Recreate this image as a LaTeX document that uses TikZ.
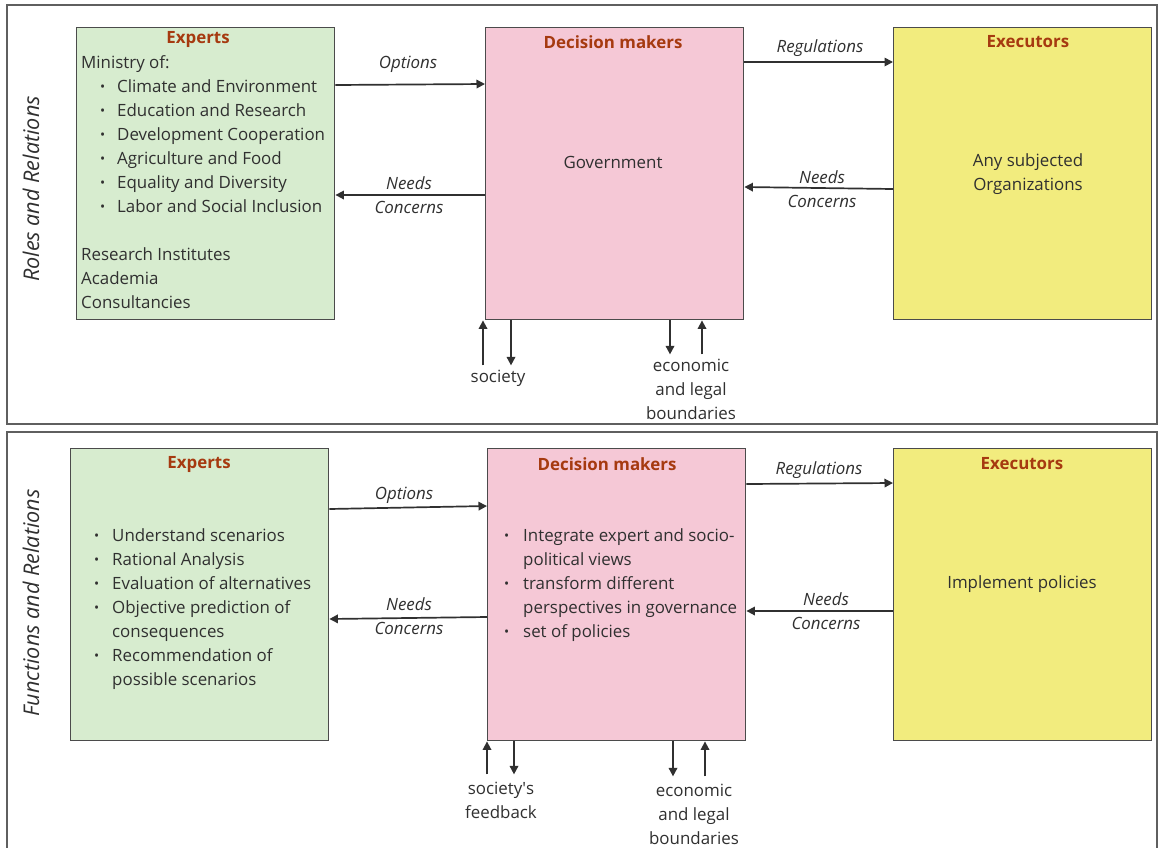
\documentclass[tikz,border=0pt]{standalone}
\usepackage{fontspec}
\setmainfont{Open Sans}
\usetikzlibrary{arrows.meta,calc}

\definecolor{expertfill}{RGB}{215,236,207}
\definecolor{deciderfill}{RGB}{245,200,214}
\definecolor{executorfill}{RGB}{242,236,126}
\definecolor{boxline}{RGB}{75,75,75}
\definecolor{titlered}{RGB}{166,58,16}
\definecolor{ink}{RGB}{48,48,48}
\definecolor{frameline}{RGB}{95,95,95}

% small list bullet followed by a fixed indent
\newcommand\bul[1]{\makebox[#1][l]{\raisebox{1pt}{\scalebox{0.8}{•}}}}

\tikzset{
  panel/.style={draw=frameline, line width=1.3pt},
  box/.style={draw=boxline, line width=1.4pt, rectangle, anchor=north west,
    inner sep=0pt, minimum width=258pt, minimum height=292pt},
  boxtitle/.style={font=\fontsize{16.9}{20}\selectfont\bfseries, text=titlered, inner sep=0pt},
  body/.style={font=\fontsize{16.9}{24}\selectfont, text=ink, inner sep=0pt},
  listbody/.style={body, align=left, anchor=north west},
  flow/.style={draw=ink, line width=1.7pt, -{Triangle[length=8.5pt,width=8.5pt]}},
  flowlabel/.style={font=\fontsize{16.9}{20}\selectfont\itshape, text=ink, inner sep=0pt},
  sidelabel/.style={font=\fontsize{21.6}{26}\selectfont\itshape, text=ink, rotate=90, inner sep=0pt},
}

\begin{document}
\begin{tikzpicture}[x=1pt,y=-1pt]
\clip (0,0) rectangle (1159,847);
\fill[white] (0,0) rectangle (1159,847);

% ---------- panels ----------
\draw[panel] (7,5) rectangle (1157,424);
\draw[panel] (7,850) -- (7,432) -- (1157,432) -- (1157,850);
\node[sidelabel] (roles) at (31,189) {Roles and Relations};
\node[sidelabel] (funcs) at (31,603) {Functions and Relations};

% ---------- upper row: roles ----------
\node[box, fill=expertfill]   (e1) at (76,27)  {};
\node[box, fill=deciderfill]  (d1) at (485,27) {};
\node[box, fill=executorfill] (x1) at (893,27) {};

\node[boxtitle] (e1t) at (198,39) {Experts};
\node[boxtitle] (d1t) at (613,42) {Decision makers};
\node[boxtitle] (x1t) at (1028,42) {Executors};

\node[listbody] (e1l) at (81,55) {Ministry of:\\
\hspace*{19pt}\bul{17pt}Climate and Environment\\
\hspace*{19pt}\bul{17pt}Education and Research\\
\hspace*{19pt}\bul{17pt}Development Cooperation\\
\hspace*{19pt}\bul{17pt}Agriculture and Food\\
\hspace*{19pt}\bul{17pt}Equality and Diversity\\
\hspace*{19pt}\bul{17pt}Labor and Social Inclusion\\
\mbox{}\\
Research Institutes\\
Academia\\
Consultancies};

\node[body] (d1b) at (613,162) {Government};
\node[body, align=center] (x1b) at (1028,174) {Any subjected\\Organizations};

\draw[flow] ($(e1.north east)+(0,58)$) -- ($(d1.north west)+(0,57)$);
\draw[flow] ($(d1.north west)+(0,168)$) -- ($(e1.north east)+(0,168)$);
\draw[flow] ($(d1.north east)+(0,35)$) -- ($(x1.north west)+(0,35)$);
\draw[flow] ($(x1.north west)+(0,162)$) -- ($(d1.north east)+(0,160)$);

\node[flowlabel] (o1)  at (408,64)  {Options};
\node[flowlabel] (n1)  at (409,183) {Needs};
\node[flowlabel] (c1)  at (409,207) {Concerns};
\node[flowlabel] (r1)  at (820,48)  {Regulations};
\node[flowlabel] (n1r) at (822,177) {Needs};
\node[flowlabel] (c1r) at (822,201) {Concerns};

\coordinate (s1in)  at ($(d1.south west)+(-2,45)$);
\coordinate (s1out) at ($(d1.south west)+(26,45)$);
\coordinate (b1out) at ($(d1.south west)+(185,34)$);
\coordinate (b1in)  at ($(d1.south west)+(217,34)$);
\draw[flow] (s1in) -- (s1in |- d1.south);
\draw[flow] (s1out |- d1.south) -- (s1out);
\draw[flow] (b1out |- d1.south) -- (b1out);
\draw[flow] (b1in) -- (b1in |- d1.south);

\node[body] (soc1) at (498,378) {society};
\node[body, align=center] (bnd1) at (691,389) {economic\\and legal\\boundaries};

% ---------- lower row: functions ----------
\node[box, fill=expertfill]   (e2) at (70,448)  {};
\node[box, fill=deciderfill]  (d2) at (487,448) {};
\node[box, fill=executorfill] (x2) at (893,448) {};

\node[boxtitle] (e2t) at (199,464) {Experts};
\node[boxtitle] (d2t) at (607,464) {Decision makers};
\node[boxtitle] (x2t) at (1022,464) {Executors};

\node[listbody] (e2l) at (94,528) {\bul{18pt}Understand scenarios\\
\bul{18pt}Rational Analysis\\
\bul{18pt}Evaluation of alternatives\\
\bul{18pt}Objective prediction of\\
\hspace*{18pt}consequences\\
\bul{18pt}Recommendation of\\
\hspace*{18pt}possible scenarios};

\node[listbody] (d2l) at (504,528) {\bul{19pt}Integrate expert and socio-\\
\hspace*{19pt}political views\\
\bul{19pt}transform different\\
\hspace*{19pt}perspectives in governance\\
\bul{19pt}set of policies};

\node[body] (x2b) at (1022,584) {Implement policies};

\draw[flow] ($(e2.north east)+(0,61)$) -- ($(d2.north west)+(0,58)$);
\draw[flow] ($(d2.north west)+(0,169)$) -- ($(e2.north east)+(0,171)$);
\draw[flow] ($(d2.north east)+(0,36)$) -- ($(x2.north west)+(0,35)$);
\draw[flow] ($(x2.north west)+(0,163)$) -- ($(d2.north east)+(0,163)$);

\node[flowlabel] (o2)  at (404,495) {Options};
\node[flowlabel] (n2)  at (409,604) {Needs};
\node[flowlabel] (c2)  at (409,628) {Concerns};
\node[flowlabel] (r2)  at (819,470) {Regulations};
\node[flowlabel] (n2r) at (826,599) {Needs};
\node[flowlabel] (c2r) at (826,623) {Concerns};

\coordinate (s2in)  at ($(d2.south west)+(0,33)$);
\coordinate (s2out) at ($(d2.south west)+(27,33)$);
\coordinate (b2out) at ($(d2.south west)+(186,35)$);
\coordinate (b2in)  at ($(d2.south west)+(218,35)$);
\draw[flow] (s2in) -- (s2in |- d2.south);
\draw[flow] (s2out |- d2.south) -- (s2out);
\draw[flow] (b2out |- d2.south) -- (b2out);
\draw[flow] (b2in) -- (b2in |- d2.south);

\node[body, align=center] (soc2) at (501,800) {society\textquotesingle s\\feedback};
\node[body, align=center] (bnd2) at (694,814) {economic\\and legal\\boundaries};
\end{tikzpicture}
\end{document}
